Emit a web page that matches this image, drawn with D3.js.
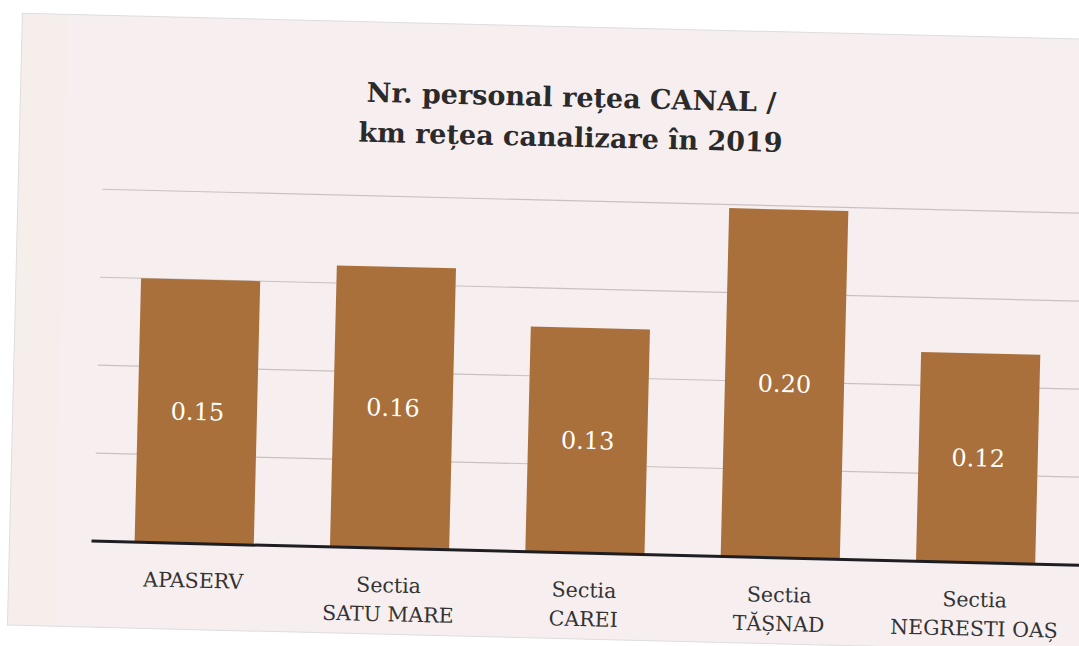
<!DOCTYPE html>
<html>
  <head>
    <meta charset="utf-8"/>
    <title>Nr. personal retea CANAL / km retea canalizare 2019</title>
    <style type="text/css">
body {
  margin: 0;
  background: #fff;
}
svg {
  display: block;
  font-family: "DejaVu Serif", "Liberation Serif", serif;
}
    </style>
  </head>
  <body>
    <div id="chart"></div>
    <script src="https://cdn.jsdelivr.net/npm/d3@7/dist/d3.min.js"></script>
    <script>
    const titleLines = ["Nr. personal rețea CANAL /", "km rețea canalizare în 2019"];
    const categories = ["APASERV", "Sectia\nSATU MARE", "Sectia\nCAREI", "Sectia\nTĂȘNAD", "Sectia\nNEGRESTI OAȘ"];
    const values = [0.15, 0.16, 0.128, 0.198, 0.119];
    const gridTicks = [0.05, 0.10, 0.15, 0.20];

    const width = 1079, height = 646;
    const axisY = 552, topY = 200;

    const svg = d3.select("#chart").append("svg")
        .attr("width", width)
        .attr("height", height);

    // the scan is a little crooked
    const g = svg.append("g")
        .attr("transform", "rotate(1.4 540 323)");

    g.append("rect")
      .attr("x", 15).attr("y", 26)
      .attr("width", 1120).attr("height", 612)
      .attr("fill", "#f7eeef")
      .attr("stroke", "#ddd");

    g.append("rect")
      .attr("x", 16).attr("y", 27)
      .attr("width", 45).attr("height", 610)
      .attr("fill", "#f6eeea");

    const x = d3.scaleBand()
        .domain(categories)
        .range([101, 1080])
        .paddingInner(0.39)
        .paddingOuter(0.2);

    const y = d3.scaleLinear()
        .domain([0, 0.20])
        .range([axisY, topY]);

    g.selectAll(".grid")
      .data(gridTicks)
      .enter()
      .append("line")
      .attr("x1", 99).attr("x2", 1100)
      .attr("y1", d => y(d)).attr("y2", d => y(d))
      .attr("stroke", "#c9c1c1")
      .attr("stroke-width", 1.2);

    g.selectAll(".bar")
      .data(values)
      .enter()
      .append("rect")
      .attr("x", (d, i) => x(categories[i]))
      .attr("y", d => y(d))
      .attr("width", x.bandwidth())
      .attr("height", d => y(0) - y(d))
      .attr("fill", "#a9703b");

    g.selectAll(".val")
      .data(values)
      .enter()
      .append("text")
      .attr("x", (d, i) => x(categories[i]) + x.bandwidth() / 2)
      .attr("y", d => (y(d) + y(0)) / 2)
      .attr("dy", "0.35em")
      .attr("text-anchor", "middle")
      .attr("fill", "#fff")
      .style("font-size", "24px")
      .text(d => d.toFixed(2));

    g.append("line")
      .attr("x1", 97).attr("x2", 1100)
      .attr("y1", axisY).attr("y2", axisY)
      .attr("stroke", "#1e1e22")
      .attr("stroke-width", 3);

    const labels = g.selectAll(".cat")
      .data(categories)
      .enter()
      .append("text")
      .attr("text-anchor", "middle")
      .attr("fill", "#333")
      .style("font-size", "20.5px");

    labels.selectAll("tspan")
      .data(d => d.split("\n").map(t => ({ t, c: d })))
      .enter()
      .append("tspan")
      .attr("x", d => x(d.c) + x.bandwidth() / 2)
      .attr("y", (d, i) => axisY + 44 + i * 29)
      .text(d => d.t);

    g.selectAll(".title")
      .data(titleLines)
      .enter()
      .append("text")
      .attr("x", 566)
      .attr("y", (d, i) => 106 + i * 40)
      .attr("text-anchor", "middle")
      .attr("fill", "#2a2a2a")
      .style("font-size", "27px")
      .style("font-weight", "bold")
      .text(d => d);
    </script>
  </body>
</html>
